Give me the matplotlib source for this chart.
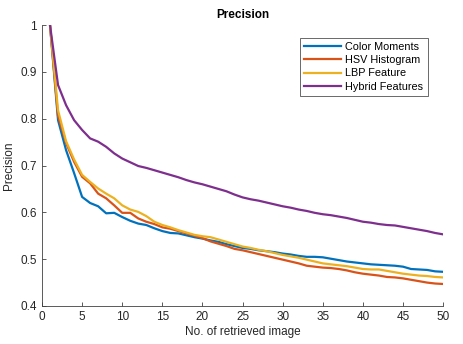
import matplotlib
matplotlib.use("Agg")
import matplotlib.pyplot as plt
import numpy as np

plt.rcParams['font.family'] = ['Liberation Sans', 'DejaVu Sans']

n_images = np.arange(1, 51)

color_moments = [1.0, 0.797, 0.733, 0.684, 0.633, 0.620, 0.613, 0.598, 0.599, 0.590,
                 0.582, 0.576, 0.573, 0.566, 0.560, 0.556, 0.555, 0.551, 0.547, 0.544,
                 0.540, 0.537, 0.532, 0.528, 0.524, 0.522, 0.519, 0.517, 0.515, 0.512,
                 0.510, 0.507, 0.505, 0.505, 0.504, 0.501, 0.498, 0.495, 0.493, 0.491,
                 0.489, 0.488, 0.487, 0.486, 0.484, 0.479, 0.478, 0.477, 0.474, 0.473]

hsv_histogram = [1.0, 0.806, 0.748, 0.708, 0.676, 0.662, 0.640, 0.630, 0.615, 0.599,
                 0.599, 0.587, 0.580, 0.575, 0.568, 0.565, 0.560, 0.555, 0.550, 0.545,
                 0.538, 0.533, 0.528, 0.522, 0.519, 0.515, 0.511, 0.507, 0.503, 0.499,
                 0.495, 0.491, 0.486, 0.484, 0.482, 0.481, 0.479, 0.476, 0.472, 0.469,
                 0.467, 0.465, 0.462, 0.461, 0.459, 0.456, 0.453, 0.450, 0.448, 0.447]

lbp_feature = [1.0, 0.818, 0.752, 0.713, 0.680, 0.665, 0.651, 0.640, 0.630, 0.615,
               0.606, 0.601, 0.592, 0.580, 0.573, 0.568, 0.562, 0.557, 0.552, 0.549,
               0.547, 0.542, 0.537, 0.532, 0.527, 0.524, 0.520, 0.517, 0.513, 0.509,
               0.506, 0.503, 0.499, 0.495, 0.491, 0.489, 0.487, 0.485, 0.482, 0.479,
               0.478, 0.478, 0.475, 0.472, 0.469, 0.467, 0.465, 0.464, 0.462, 0.461]

hybrid_features = [1.0, 0.872, 0.829, 0.797, 0.776, 0.758, 0.751, 0.740, 0.726, 0.715,
                   0.707, 0.699, 0.695, 0.690, 0.685, 0.680, 0.675, 0.669, 0.664, 0.660,
                   0.655, 0.650, 0.645, 0.638, 0.632, 0.628, 0.625, 0.621, 0.617, 0.613,
                   0.610, 0.606, 0.603, 0.599, 0.596, 0.594, 0.591, 0.588, 0.584, 0.580,
                   0.578, 0.575, 0.573, 0.572, 0.569, 0.566, 0.563, 0.560, 0.556, 0.553]

series = {
    'Color Moments': (color_moments, '#0072BD'),
    'HSV Histogram': (hsv_histogram, '#D95319'),
    'LBP Feature': (lbp_feature, '#EDB120'),
    'Hybrid Features': (hybrid_features, '#7E2F8E'),
}

fig = plt.figure(figsize=(4.64, 3.44), dpi=100)
ax = fig.add_axes([0.0905, 0.1105, 0.8645, 0.8165])

for name, (vals, col) in series.items():
    ax.plot(n_images, vals, color=col, lw=1.6, label=name)

ax.set_xlim(0, 50)
ax.set_ylim(0.4, 1.0)
ax.set_xticks(np.arange(0, 51, 5))
ax.set_yticks([0.4, 0.5, 0.6, 0.7, 0.8, 0.9, 1.0])
ax.set_yticklabels(['0.4', '0.5', '0.6', '0.7', '0.8', '0.9', '1'])

for s in ['top', 'right']:
    ax.spines[s].set_visible(False)
for s in ['left', 'bottom']:
    ax.spines[s].set_color('#404040')
    ax.spines[s].set_linewidth(0.6)
ax.tick_params(direction='in', length=3, width=0.6, colors='#404040',
               labelsize=8.5, labelcolor='#262626')

ax.set_title('Precision', fontsize=8.5, fontweight='bold', pad=5)
ax.set_xlabel('No. of retrieved image', fontsize=8.5, labelpad=2, color='#262626')
ax.set_ylabel('Precision', fontsize=8.5, labelpad=4, color='#262626')

leg = ax.legend(loc='upper right', bbox_to_anchor=(0.975, 0.975), fontsize=7.8,
                frameon=True, fancybox=False, handlelength=3.4, borderpad=0.4,
                labelspacing=0.3, handletextpad=0.4)
leg.get_frame().set_edgecolor('#262626')
leg.get_frame().set_linewidth(0.6)

fig.savefig('out.png', dpi=100)
